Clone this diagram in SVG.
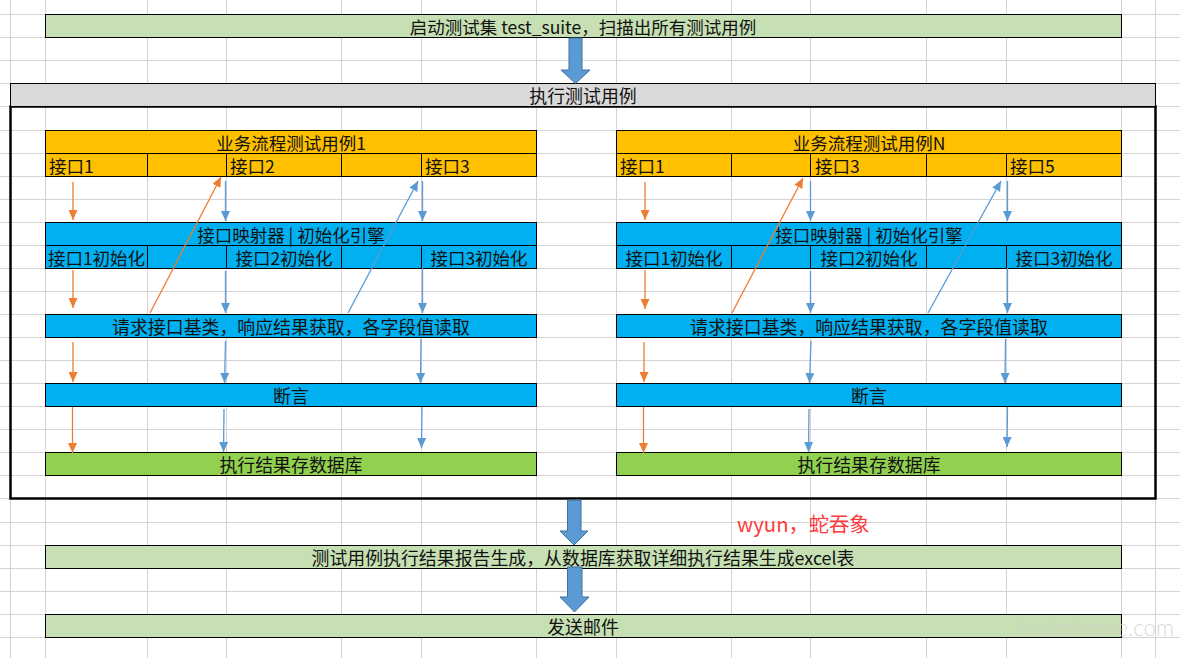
<svg xmlns="http://www.w3.org/2000/svg" width="1180" height="658" viewBox="0 0 1180 658">
<style>
.grid line{stroke:#d4d4d4;stroke-width:1}
.bar{stroke:#000;stroke-width:1}
.div{stroke:#000;stroke-width:1}
.t{font-family:"Noto Sans CJK SC","Liberation Sans",sans-serif;font-size:17.5px;fill:#111}
.b{font-size:17.9px}
.c{text-anchor:middle}
.or{stroke:#ed7d31;stroke-width:1.3;fill:none;marker-end:url(#ho)}
.bl{stroke:#5b9bd5;stroke-width:1.3;fill:none;marker-end:url(#hb)}
.fat{fill:#5b9bd5;stroke:#41719c;stroke-width:1}
</style>
<defs>
<marker id="ho" viewBox="0 0 10 9" refX="10" refY="4.5" markerWidth="10" markerHeight="9" markerUnits="userSpaceOnUse" orient="auto"><path d="M0,0 L10,4.5 L0,9 z" fill="#ed7d31"/></marker>
<marker id="hb" viewBox="0 0 10 9" refX="10" refY="4.5" markerWidth="10" markerHeight="9" markerUnits="userSpaceOnUse" orient="auto"><path d="M0,0 L10,4.5 L0,9 z" fill="#5b9bd5"/></marker>
</defs>
<rect x="0" y="0" width="1180" height="658" fill="#fff"/>
<g class="grid">
<line x1="10.5" y1="0" x2="10.5" y2="658"/><line x1="45.5" y1="0" x2="45.5" y2="658"/><line x1="147.5" y1="0" x2="147.5" y2="658"/><line x1="226.5" y1="0" x2="226.5" y2="658"/><line x1="341.5" y1="0" x2="341.5" y2="658"/><line x1="421.5" y1="0" x2="421.5" y2="658"/><line x1="536.5" y1="0" x2="536.5" y2="658"/><line x1="616.5" y1="0" x2="616.5" y2="658"/><line x1="731.5" y1="0" x2="731.5" y2="658"/><line x1="810.5" y1="0" x2="810.5" y2="658"/><line x1="926.5" y1="0" x2="926.5" y2="658"/><line x1="1006.5" y1="0" x2="1006.5" y2="658"/><line x1="1121.5" y1="0" x2="1121.5" y2="658"/><line x1="1155.5" y1="0" x2="1155.5" y2="658"/>
<line x1="0" y1="14.5" x2="1180" y2="14.5"/><line x1="0" y1="37.5" x2="1180" y2="37.5"/><line x1="0" y1="60.5" x2="1180" y2="60.5"/><line x1="0" y1="83.5" x2="1180" y2="83.5"/><line x1="0" y1="106.5" x2="1180" y2="106.5"/><line x1="0" y1="130.5" x2="1180" y2="130.5"/><line x1="0" y1="153.5" x2="1180" y2="153.5"/><line x1="0" y1="176.5" x2="1180" y2="176.5"/><line x1="0" y1="199.5" x2="1180" y2="199.5"/><line x1="0" y1="222.5" x2="1180" y2="222.5"/><line x1="0" y1="245.5" x2="1180" y2="245.5"/><line x1="0" y1="268.5" x2="1180" y2="268.5"/><line x1="0" y1="291.5" x2="1180" y2="291.5"/><line x1="0" y1="314.5" x2="1180" y2="314.5"/><line x1="0" y1="337.5" x2="1180" y2="337.5"/><line x1="0" y1="360.5" x2="1180" y2="360.5"/><line x1="0" y1="383.5" x2="1180" y2="383.5"/><line x1="0" y1="406.5" x2="1180" y2="406.5"/><line x1="0" y1="429.5" x2="1180" y2="429.5"/><line x1="0" y1="452.5" x2="1180" y2="452.5"/><line x1="0" y1="475.5" x2="1180" y2="475.5"/><line x1="0" y1="498.5" x2="1180" y2="498.5"/><line x1="0" y1="522.5" x2="1180" y2="522.5"/><line x1="0" y1="545.5" x2="1180" y2="545.5"/><line x1="0" y1="568.5" x2="1180" y2="568.5"/><line x1="0" y1="591.5" x2="1180" y2="591.5"/><line x1="0" y1="614.5" x2="1180" y2="614.5"/><line x1="0" y1="637.5" x2="1180" y2="637.5"/>
</g>
<g id="start">
<rect class="bar" x="45.5" y="14.5" width="1076" height="23" fill="#c6e0b4"/>
<text class="t c" x="583" y="34">启动测试集 test_suite，扫描出所有测试用例</text>
</g>
<g id="exec-frame">
<rect x="10.5" y="106.5" width="1145" height="392" fill="none" stroke="#000" stroke-width="2.5"/>
<rect class="bar" x="10.5" y="83.5" width="1145" height="23" fill="#d9d9d9"/>
<text class="t b c" x="583" y="103">执行测试用例</text>
</g>
<g id="case1-header">
<rect class="bar" x="45.5" y="130.5" width="491" height="46" fill="#ffc000"/>
<line class="div" x1="45.5" y1="153.5" x2="536.5" y2="153.5"/>
<line class="div" x1="147.5" y1="153.5" x2="147.5" y2="176.5"/><line class="div" x1="226.5" y1="153.5" x2="226.5" y2="176.5"/><line class="div" x1="341.5" y1="153.5" x2="341.5" y2="176.5"/><line class="div" x1="421.5" y1="153.5" x2="421.5" y2="176.5"/>
<text class="t c" x="291" y="150">业务流程测试用例1</text>
<text class="t" x="49" y="173">接口1</text>
<text class="t" x="230" y="173">接口2</text>
<text class="t" x="425" y="173">接口3</text>
</g>
<g id="case1-mapper">
<rect class="bar" x="45.5" y="222.5" width="491" height="46" fill="#00b0f0"/>
<line class="div" x1="45.5" y1="245.5" x2="536.5" y2="245.5"/>
<line class="div" x1="147.5" y1="245.5" x2="147.5" y2="268.5"/><line class="div" x1="226.5" y1="245.5" x2="226.5" y2="268.5"/><line class="div" x1="341.5" y1="245.5" x2="341.5" y2="268.5"/><line class="div" x1="421.5" y1="245.5" x2="421.5" y2="268.5"/>
<text class="t c" x="291" y="242">接口映射器 | 初始化引擎</text>
<text class="t c" x="96.5" y="265">接口1初始化</text>
<text class="t c" x="284" y="265">接口2初始化</text>
<text class="t c" x="479" y="265">接口3初始化</text>
</g>
<g id="case1-request">
<rect class="bar" x="45.5" y="314.5" width="491" height="23" fill="#00b0f0"/>
<text class="t b c" x="291" y="334">请求接口基类，响应结果获取，各字段值读取</text>
</g>
<g id="case1-assert">
<rect class="bar" x="45.5" y="383.5" width="491" height="23" fill="#00b0f0"/>
<text class="t b c" x="291" y="403">断言</text>
</g>
<g id="case1-db">
<rect class="bar" x="45.5" y="452.5" width="491" height="23" fill="#92d050"/>
<text class="t b c" x="291" y="472">执行结果存数据库</text>
</g>
<g id="caseN-header">
<rect class="bar" x="616.5" y="130.5" width="505" height="46" fill="#ffc000"/>
<line class="div" x1="616.5" y1="153.5" x2="1121.5" y2="153.5"/>
<line class="div" x1="731.5" y1="153.5" x2="731.5" y2="176.5"/><line class="div" x1="810.5" y1="153.5" x2="810.5" y2="176.5"/><line class="div" x1="926.5" y1="153.5" x2="926.5" y2="176.5"/><line class="div" x1="1006.5" y1="153.5" x2="1006.5" y2="176.5"/>
<text class="t c" x="869" y="150">业务流程测试用例N</text>
<text class="t" x="620" y="173">接口1</text>
<text class="t" x="815" y="173">接口3</text>
<text class="t" x="1010" y="173">接口5</text>
</g>
<g id="caseN-mapper">
<rect class="bar" x="616.5" y="222.5" width="505" height="46" fill="#00b0f0"/>
<line class="div" x1="616.5" y1="245.5" x2="1121.5" y2="245.5"/>
<line class="div" x1="731.5" y1="245.5" x2="731.5" y2="268.5"/><line class="div" x1="810.5" y1="245.5" x2="810.5" y2="268.5"/><line class="div" x1="926.5" y1="245.5" x2="926.5" y2="268.5"/><line class="div" x1="1006.5" y1="245.5" x2="1006.5" y2="268.5"/>
<text class="t c" x="869" y="242">接口映射器 | 初始化引擎</text>
<text class="t c" x="674" y="265">接口1初始化</text>
<text class="t c" x="869" y="265">接口2初始化</text>
<text class="t c" x="1064" y="265">接口3初始化</text>
</g>
<g id="caseN-request">
<rect class="bar" x="616.5" y="314.5" width="505" height="23" fill="#00b0f0"/>
<text class="t b c" x="869" y="334">请求接口基类，响应结果获取，各字段值读取</text>
</g>
<g id="caseN-assert">
<rect class="bar" x="616.5" y="383.5" width="505" height="23" fill="#00b0f0"/>
<text class="t b c" x="869" y="403">断言</text>
</g>
<g id="caseN-db">
<rect class="bar" x="616.5" y="452.5" width="505" height="23" fill="#92d050"/>
<text class="t b c" x="869" y="472">执行结果存数据库</text>
</g>
<g id="report">
<rect class="bar" x="45.5" y="545.5" width="1076" height="23" fill="#c6e0b4"/>
<text class="t b c" x="583" y="565">测试用例执行结果报告生成，从数据库获取详细执行结果生成excel表</text>
</g>
<g id="mail">
<rect class="bar" x="45.5" y="614.5" width="1076" height="23" fill="#c6e0b4"/>
<text class="t b c" x="583" y="634">发送邮件</text>
</g>
<g id="note">
<text x="737" y="532" font-family="Noto Sans CJK SC, Liberation Sans, sans-serif" font-size="20.3" fill="#ff3b3b">wyun，蛇吞象</text>
</g>
<g id="connectors">
<polygon class="fat" points="569,38 582,38 582,70 590,70 575.5,83.5 561,70 569,70"/>
<polygon class="fat" points="567.5,500 581,500 581,531 588,531 574,545 560,531 567.5,531"/>
<polygon class="fat" points="567.5,567 582,567 582,597 589,597 574.5,612 560,597 567.5,597"/>
<line class="or" x1="73" y1="182" x2="73" y2="220"/>
<line class="or" x1="73" y1="270" x2="73" y2="308"/>
<line class="or" x1="73" y1="342" x2="73" y2="382"/>
<line class="or" x1="72.5" y1="407" x2="72.5" y2="453"/>
<line class="bl" x1="225.5" y1="181" x2="225.5" y2="221"/>
<line class="bl" x1="225.5" y1="271" x2="225.5" y2="313"/>
<line class="bl" x1="225.5" y1="341" x2="224.5" y2="383"/>
<line class="bl" x1="224" y1="409" x2="223.5" y2="452"/>
<line class="bl" x1="422.5" y1="181" x2="422.5" y2="221"/>
<line class="bl" x1="422.5" y1="268" x2="422.5" y2="313"/>
<line class="bl" x1="421" y1="339" x2="420.5" y2="383"/>
<line class="bl" x1="422" y1="407" x2="421.5" y2="448"/>
<line class="or" x1="150" y1="313" x2="221" y2="177"/>
<line class="bl" x1="348" y1="313" x2="418" y2="181"/>
<line class="or" x1="645" y1="182" x2="645" y2="220"/>
<line class="or" x1="645" y1="270" x2="645" y2="309"/>
<line class="or" x1="644" y1="342" x2="644" y2="382"/>
<line class="or" x1="643.5" y1="407" x2="643.5" y2="453"/>
<line class="bl" x1="810.5" y1="181" x2="810.5" y2="221"/>
<line class="bl" x1="810.5" y1="271" x2="810.5" y2="313"/>
<line class="bl" x1="811" y1="341" x2="809.5" y2="383"/>
<line class="bl" x1="809" y1="409" x2="808.5" y2="452"/>
<line class="bl" x1="1007.5" y1="181" x2="1007.5" y2="221"/>
<line class="bl" x1="1007.5" y1="268" x2="1007.5" y2="313"/>
<line class="bl" x1="1005.5" y1="339" x2="1005" y2="383"/>
<line class="bl" x1="1007.5" y1="407" x2="1007" y2="447"/>
<line class="or" x1="732" y1="313" x2="803" y2="178"/>
<line class="bl" x1="928" y1="313" x2="1001" y2="181"/>
</g>
<g id="watermark">
<text x="1018" y="636" font-family="Lato, Open Sans, sans-serif" font-weight="300" font-size="24" fill="#d2d2d2" fill-opacity="0.85" textLength="156" lengthAdjust="spacingAndGlyphs">testerhome.com</text>
</g>
</svg>
